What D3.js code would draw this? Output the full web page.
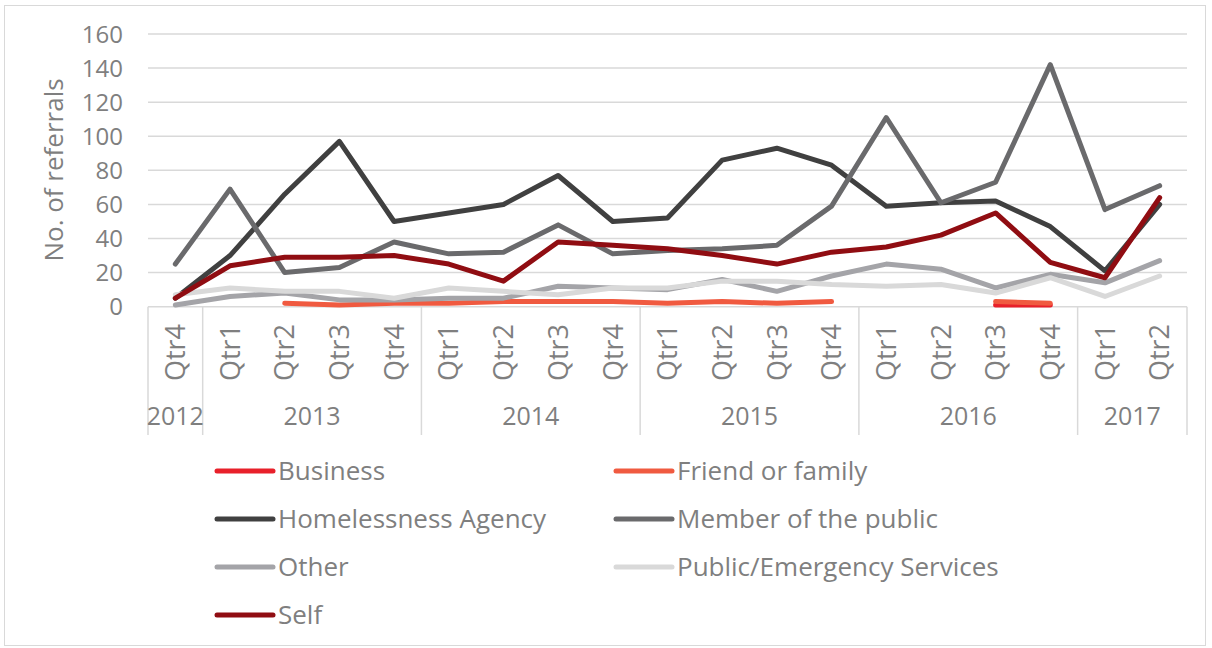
<!DOCTYPE html>
<html>
<head>
<meta charset="utf-8">
<script src="https://d3js.org/d3.v7.min.js"></script>
<style>
  body { margin: 0; background: #fff; }
  text { font-family: "Open Sans", Roboto, sans-serif; fill: #7f7f7f; }
</style>
</head>
<body>
<div id="chart"></div>
<script>

// categories: one per quarter, with the year each quarter belongs to
var quarters = ["Qtr4","Qtr1","Qtr2","Qtr3","Qtr4","Qtr1","Qtr2","Qtr3","Qtr4","Qtr1","Qtr2","Qtr3","Qtr4","Qtr1","Qtr2","Qtr3","Qtr4","Qtr1","Qtr2"]
var quarterYears = ["2012","2013","2013","2013","2013","2014","2014","2014","2014","2015","2015","2015","2015","2016","2016","2016","2016","2017","2017"]
var yTicks = [0, 20, 40, 60, 80, 100, 120, 140, 160]

// series values (null = no data for that quarter)
var business = [null,null,null,null,null,null,null,null,null,null,null,null,null,null,null,1,1,null,null]
var friendFamily = [null,null,2,1,2,2,3,3,3,2,3,2,3,null,null,3,2,null,null]
var homelessnessAgency = [5,30,66,97,50,55,60,77,50,52,86,93,83,59,61,62,47,21,60]
var memberOfPublic = [25,69,20,23,38,31,32,48,31,33,34,36,59,111,61,73,142,57,71]
var other = [1,6,8,4,4,5,5,12,11,10,16,9,18,25,22,11,19,14,27]
var publicEmergency = [7,11,9,9,5,11,9,7,11,11,15,15,13,12,13,8,17,6,18]
var self = [5,24,29,29,30,25,15,38,36,34,30,25,32,35,42,55,26,17,64]

var seriesNames = ["Business","Friend or family","Homelessness Agency","Member of the public","Other","Public/Emergency Services","Self"]
var seriesValues = [business, friendFamily, homelessnessAgency, memberOfPublic, other, publicEmergency, self]
var seriesColors = ["#e8202a","#f05a40","#404040","#6a6a6c","#a4a4a8","#d9d9d9","#900d12"]

var width = 1212, height = 648

var svg = d3.select("#chart").append("svg")
    .attr("width", width)
    .attr("height", height)

// outer frame
svg.append("rect")
    .attr("x", 4.5).attr("y", 5.5)
    .attr("width", 1201).attr("height", 640)
    .attr("fill", "none")
    .attr("stroke", "#d9d9d9")
    .attr("stroke-width", 1)

var x = d3.scaleBand()
    .domain(d3.range(quarters.length))
    .range([148, 1187])

var y = d3.scaleLinear()
    .domain([0, 160])
    .range([306.7, 34])

// gridlines
svg.append("g")
  .selectAll("line")
  .data(yTicks)
  .enter()
  .append("line")
    .attr("x1", x.range()[0])
    .attr("x2", x.range()[1])
    .attr("y1", function(d){ return y(d) })
    .attr("y2", function(d){ return y(d) })
    .attr("stroke", "#d9d9d9")
    .attr("stroke-width", 1.5)

// y tick labels
svg.append("g")
  .selectAll("text")
  .data(yTicks)
  .enter()
  .append("text")
    .attr("x", 123)
    .attr("y", function(d){ return y(d) })
    .attr("dy", "0.36em")
    .attr("text-anchor", "end")
    .style("font-size", "24px")
    .text(function(d){ return d })

// y axis title
svg.append("text")
    .attr("transform", "translate(63,170) rotate(-90)")
    .attr("text-anchor", "middle")
    .style("font-size", "26px")
    .text("No. of referrals")

// x axis: quarter labels, year labels and separators
var bottom = 435
var yearGroups = d3.groups(d3.range(quarters.length), function(i){ return quarterYears[i] })
var boundaries = [x(0)].concat(yearGroups.map(function(g){ return x(g[1][g[1].length - 1]) + x.bandwidth() }))

svg.append("g")
  .selectAll("line")
  .data(boundaries)
  .enter()
  .append("line")
    .attr("x1", function(d){ return d })
    .attr("x2", function(d){ return d })
    .attr("y1", y(0))
    .attr("y2", bottom)
    .attr("stroke", "#d9d9d9")
    .attr("stroke-width", 1.5)

svg.append("g")
  .selectAll("text")
  .data(quarters)
  .enter()
  .append("text")
    .attr("transform", function(d, i){ return "translate(" + (x(i) + x.bandwidth() / 2) + ",324) rotate(-90)" })
    .attr("dy", "0.36em")
    .attr("text-anchor", "end")
    .style("font-size", "27px")
    .text(function(d){ return d })

svg.append("g")
  .selectAll("text")
  .data(yearGroups)
  .enter()
  .append("text")
    .attr("x", function(g){ return (x(g[1][0]) + x(g[1][g[1].length - 1]) + x.bandwidth()) / 2 })
    .attr("y", 425)
    .attr("text-anchor", "middle")
    .style("font-size", "25px")
    .text(function(g){ return g[0] })

// lines
var line = d3.line()
    .defined(function(d){ return d !== null })
    .x(function(d, i){ return x(i) + x.bandwidth() / 2 })
    .y(function(d){ return y(d) })

svg.append("g")
  .selectAll("path")
  .data(seriesValues)
  .enter()
  .append("path")
    .attr("d", line)
    .attr("fill", "none")
    .attr("stroke", function(d, i){ return seriesColors[i] })
    .attr("stroke-width", 5)
    .attr("stroke-linecap", "round")
    .attr("stroke-linejoin", "round")

// legend, two columns
var legend = svg.append("g")
  .selectAll("g")
  .data(seriesNames)
  .enter()
  .append("g")
    .attr("transform", function(d, i){ return "translate(" + (i % 2 === 0 ? 217 : 616) + "," + (471 + Math.floor(i / 2) * 48) + ")" })

legend.append("line")
    .attr("x1", 0).attr("x2", 56)
    .attr("stroke", function(d, i){ return seriesColors[i] })
    .attr("stroke-width", 5)
    .attr("stroke-linecap", "round")

legend.append("text")
    .attr("x", 61)
    .attr("dy", "0.36em")
    .style("font-size", "26px")
    .text(function(d){ return d })

</script>
</body>
</html>
